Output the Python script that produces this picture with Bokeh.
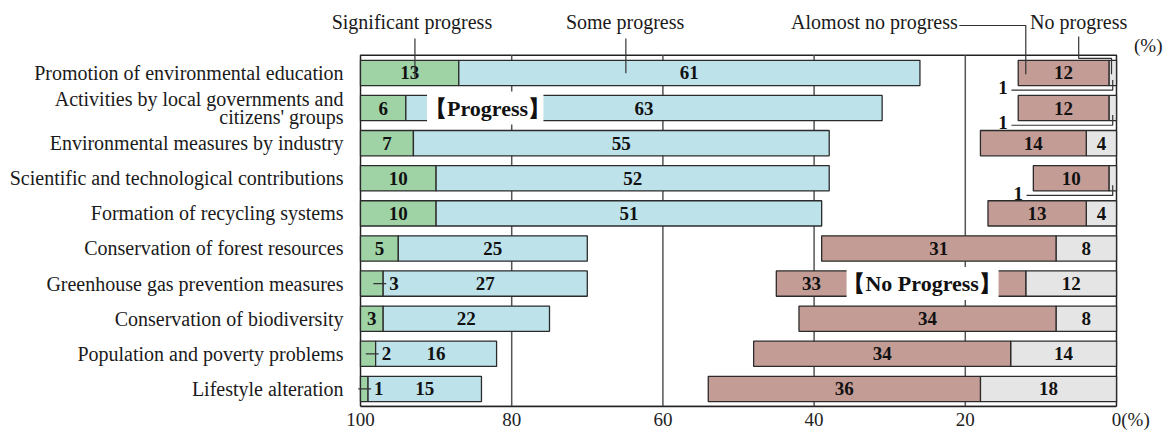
from bokeh.plotting import figure
from bokeh.models import Range1d, FixedTicker
from bokeh.core.properties import value
from bokeh.embed import file_html
from bokeh.resources import INLINE

# Survey results (%), one entry per item, top to bottom
categories = [
    "Promotion of environmental education",
    "Activities by local governments and\ncitizens' groups",
    "Environmental measures by industry",
    "Scientific and technological contributions",
    "Formation of recycling systems",
    "Conservation of forest resources",
    "Greenhouse gas prevention measures",
    "Conservation of biodiversity",
    "Population and poverty problems",
    "Lifestyle alteration",
]
significant = [13, 6, 7, 10, 10, 5, 3, 3, 2, 1]
some = [61, 63, 55, 52, 51, 25, 27, 22, 16, 15]
almost_none = [12, 12, 14, 10, 13, 31, 33, 34, 34, 36]
no_progress = [1, 1, 4, 1, 4, 8, 12, 8, 14, 18]
x_ticks = [100, 80, 60, 40, 20, 0]
grid_ticks = [80, 60, 40, 20]

# narrow "significant" segments whose value is written beside the bar
green_callout = [False, False, False, False, False, False, True, False, True, True]

SERIF = "Liberation Serif"
EDGE = "#2b2b2b"
INK = "#1a1a1a"
GREEN, BLUE, BROWN, GREY = "#9fd3a6", "#bde2ea", "#c49c96", "#e5e5e5"

# canvas and placement of the 100..0 value box (pixels)
W, H = 1169, 432
BOX_L, BOX_R, BOX_T, BOX_B = 360, 1116, 55, 407
n = len(categories)
ux = (BOX_R - BOX_L) / 100.0
uy = (BOX_B - BOX_T) / n

p = figure(
    width=W, height=H, output_backend="svg", toolbar_location=None,
    x_range=Range1d(100 + BOX_L / ux, -(W - BOX_R) / ux),
    y_range=Range1d(n + (H - 25 - BOX_B) / uy, -BOX_T / uy),
    min_border_left=0, min_border_right=0, min_border_top=0, min_border_bottom=25,
    y_axis_location=None,
)
p.outline_line_color = None
p.background_fill_color = "white"
p.border_fill_color = "white"
p.grid.grid_line_color = None

ax = p.xaxis[0]
ax.ticker = FixedTicker(ticks=x_ticks)
ax.bounds = (0, 100)
ax.axis_line_color = "#222222"
ax.axis_line_width = 1.5
ax.major_tick_line_color = None
ax.minor_tick_line_color = None
ax.major_tick_out = 0
ax.major_tick_in = 0
ax.major_label_standoff = 2
ax.major_label_text_font = SERIF
ax.major_label_text_font_size = "19px"
ax.major_label_text_color = "#222222"
ax.major_label_overrides = {0: "\u00a0" * 6 + "0(%)"}

rows = [i + 0.5 for i in range(n)]

# value box and vertical grid lines
p.quad(left=100, right=0, top=0, bottom=n, fill_color=None,
       line_color="#222222", line_width=1.5)
p.segment(x0=grid_ticks, y0=[0] * 4, x1=grid_ticks, y1=[n] * 4,
          line_color="#555555", line_width=1.5)

BAR_H = 0.72
g_r = [100 - s for s in significant]
b_r = [100 - s - m for s, m in zip(significant, some)]
a_r = [z + a for z, a in zip(no_progress, almost_none)]
p.hbar(y=rows, left=100, right=g_r, height=BAR_H,
       fill_color=GREEN, line_color=EDGE, line_width=1.3)
p.hbar(y=rows, left=g_r, right=b_r, height=BAR_H,
       fill_color=BLUE, line_color=EDGE, line_width=1.3)
p.hbar(y=rows, left=0, right=no_progress, height=BAR_H,
       fill_color=GREY, line_color=EDGE, line_width=1.3)
p.hbar(y=rows, left=no_progress, right=a_r, height=BAR_H,
       fill_color=BROWN, line_color=EDGE, line_width=1.3)

# section headings sitting on the bars (white panels behind the text)
prog_row, noprog_row = 1, 6
head_specs = [("【Progress】", 83.2, prog_row, 75.8, 91.2),
              ("【No Progress】", 25.7, noprog_row, 15.6, 35.7)]
p.quad(left=[h[3] for h in head_specs], right=[h[4] for h in head_specs],
       top=[h[2] + 0.03 for h in head_specs], bottom=[h[2] + 0.97 for h in head_specs],
       fill_color="white", line_color=None)
p.text(x=[h[1] for h in head_specs], y=[h[2] + 0.5 for h in head_specs],
       text=[h[0] for h in head_specs], text_align="center", text_baseline="middle",
       text_font=value(SERIF), text_font_style="bold", text_font_size="22px",
       text_color="#111111")
noprog_box_left = head_specs[1][4]

# value labels
lx, ly, lt, la = [], [], [], []
seg_x0, seg_x1, seg_y = [], [], []
for i in range(n):
    y = rows[i]
    g_edge = 100 - significant[i]
    if green_callout[i]:
        lx.append(g_edge - 0.8); la.append("left")
        seg_x0.append(g_edge + 1.3); seg_x1.append(g_edge - 0.4); seg_y.append(y)
    else:
        lx.append(100 - significant[i] / 2); la.append("center")
    ly.append(y); lt.append(str(significant[i]))

    lx.append(100 - significant[i] - some[i] / 2); la.append("center")
    ly.append(y); lt.append(str(some[i]))

    outer = no_progress[i] + almost_none[i]
    if i == noprog_row:
        lx.append((outer + noprog_box_left) / 2)
    else:
        lx.append(no_progress[i] + almost_none[i] / 2)
    la.append("center"); ly.append(y); lt.append(str(almost_none[i]))

    if no_progress[i] > 1:
        lx.append(no_progress[i] / 2); la.append("center")
        ly.append(y); lt.append(str(no_progress[i]))

p.text(x=lx, y=ly, text=lt, text_align=la, text_baseline="middle",
       text_font=value(SERIF), text_font_style="bold", text_font_size="19px",
       text_color="#111111")
p.segment(x0=seg_x0, y0=seg_y, x1=seg_x1, y1=seg_y, line_color="#333333", line_width=1.2)

# "1" call-outs for the thin "no progress" segments
cx, cy, mxs, mys = [], [], [], []
for i in range(n):
    if no_progress[i] == 1:
        y = rows[i]
        tx = no_progress[i] + almost_none[i] + 2.0
        cx.append(tx); cy.append(y + 0.42)
        mxs.append([tx - 1.1, no_progress[i] / 2, no_progress[i] / 2])
        mys.append([y + 0.49, y + 0.49, y + 0.2])
p.text(x=cx, y=cy, text=["1"] * len(cx), text_align="center", text_baseline="middle",
       text_font=value(SERIF), text_font_style="bold", text_font_size="19px",
       text_color="#111111")
p.multi_line(xs=mxs, ys=mys, line_color="#333333", line_width=1.2)

# category labels, right-aligned against the value box
cat_x, cat_y, cat_t = [], [], []
for i, name in enumerate(categories):
    parts = name.split("\n")
    offs = [0.0] if len(parts) == 1 else [-0.25, 0.26]
    for part, o in zip(parts, offs):
        cat_x.append(100 + 17 / ux); cat_y.append(rows[i] + o); cat_t.append(part)
p.text(x=cat_x, y=cat_y, text=cat_t, text_align="right", text_baseline="middle",
       text_font=value(SERIF), text_font_size="20px", text_color=INK)

# legend call-outs above the box
heads = [("Significant progress", 93.2, "center"),
         ("Some progress", 65.0, "center"),
         ("Alomost no progress", 21.0, "right"),
         ("No progress", 5.0, "center")]
p.text(x=[h[1] for h in heads], y=[-0.94] * 4, text=[h[0] for h in heads],
       text_align=[h[2] for h in heads], text_baseline="middle",
       text_font=value(SERIF), text_font_size="20px", text_color=INK)
p.multi_line(
    xs=[[92.8, 92.8], [64.9, 64.9], [20.8, 12.0, 12.0], [5.0, 5.0, 0.66, 0.66]],
    ys=[[-0.48, 0.62], [-0.48, 0.51], [-0.85, -0.85, 0.54], [-0.54, 0.085, 0.085, 0.54]],
    line_color="#333333", line_width=1.2)

p.text(x=[-4.2], y=[-0.28], text=["(%)"], text_align="center", text_baseline="middle",
       text_font=value(SERIF), text_font_size="19px", text_color=INK)

open("out.html", "w").write(file_html(p, INLINE))
